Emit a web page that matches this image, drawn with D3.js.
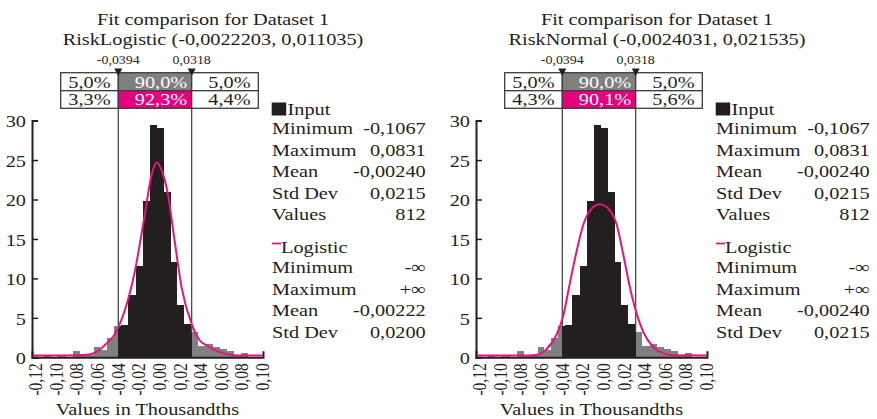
<!DOCTYPE html>
<html>
<head>
<meta charset="utf-8">
<script src="https://cdn.jsdelivr.net/npm/d3@7"></script>
<style>
    body { margin: 0; background: #fff; }
    svg text { font-family: "Liberation Serif", "Times New Roman", serif; fill: #231f20; }
</style>
</head>
<body>
<svg id="chart" width="877" height="419"></svg>
<script>
///// DATOS //////
// histograma (mismo dataset en los dos paneles)
let binEdges = [-0.1110, -0.1042, -0.0974, -0.0906, -0.0838, -0.0770, -0.0702, -0.0634, -0.0567, -0.0499,
    -0.0431, -0.0363, -0.0295, -0.0227, -0.0159, -0.0091, -0.0023, 0.0045, 0.0113, 0.0180,
    0.0248, 0.0316, 0.0384, 0.0452, 0.0520, 0.0588, 0.0656, 0.0724, 0.0792, 0.0860];
let binDensity = [0.18, 0, 0.18, 0, 0.75, 0.35, 0.35, 1.25, 0.9, 2.4,
    4.0, 4.1, 7.9, 11.6, 19.8, 29.5, 29.0, 21.0, 12.1, 6.6,
    4.2, 3.25, 1.45, 1.65, 1.35, 1.05, 0.75, 0.2, 0.6];

let xTicks = [-0.12, -0.10, -0.08, -0.06, -0.04, -0.02, 0, 0.02, 0.04, 0.06, 0.08, 0.10];
let yTicks = [0, 5, 10, 15, 20, 25, 30];

let delimiters = [-0.0394, 0.0318];
let delimiterLabels = ['-0,0394', '0,0318'];

let targetRow = ['5,0%', '90,0%', '5,0%'];
let logisticRow = ['3,3%', '92,3%', '4,4%'];
let normalRow = ['4,3%', '90,1%', '5,6%'];

// curvas ajustadas [valor, densidad]
let logisticCurve = [[-0.122, 0.22], [-0.090, 0.22], [-0.0733, 0.28], [-0.0625, 0.55], [-0.0528, 1.5],
    [-0.0425, 3.0], [-0.0332, 5.9], [-0.0235, 10.8], [-0.0138, 18.0], [-0.0070, 23.2], [-0.0022, 24.7],
    [0.0030, 23.6], [0.0090, 20.5], [0.0150, 15.0], [0.0221, 8.8], [0.0318, 4.2], [0.0399, 2.1],
    [0.0480, 1.4], [0.0528, 1.0], [0.0658, 0.4], [0.0787, 0.22], [0.1007, 0.22]];
let normalCurve = [[-0.122, 0.22], [-0.080, 0.22], [-0.0675, 0.25], [-0.0600, 0.5], [-0.0545, 1.05],
    [-0.0448, 2.9], [-0.0384, 5.3], [-0.0319, 9.5], [-0.0254, 13.5], [-0.0190, 16.8], [-0.0125, 18.6],
    [-0.0028, 19.4], [0.0069, 18.6], [0.0134, 16.8], [0.0198, 13.0], [0.0263, 8.8], [0.0328, 5.5],
    [0.0392, 3.2], [0.0489, 1.3], [0.0586, 0.5], [0.0683, 0.25], [0.1007, 0.22]];

let inputStatNames = ['Minimum', 'Maximum', 'Mean', 'Std Dev', 'Values'];
let inputStatValues = ['-0,1067', '0,0831', '-0,00240', '0,0215', '812'];
let fitStatNames = ['Minimum', 'Maximum', 'Mean', 'Std Dev'];
let logisticStatValues = ['-\u221E', '+\u221E', '-0,00222', '0,0200'];
let normalStatValues = ['-\u221E', '+\u221E', '-0,00240', '0,0215'];

let panels = [
    {offset: 0, subtitle: 'RiskLogistic (-0,0022203, 0,011035)', curve: logisticCurve, row: logisticRow, fitValues: logisticStatValues},
    {offset: 444, subtitle: 'RiskNormal (-0,0024031, 0,021535)', curve: normalCurve, row: normalRow, fitValues: normalStatValues}
];

///// ESTILO //////
const SX = 1.16; // el texto original sale algo ensanchado
const FS = 17.5;
const INK = '#231f20', GREY = '#808080', PINK = '#e8137f';

let locale = d3.formatLocale({decimal: ',', thousands: '.', grouping: [3], currency: ['', ''], minus: '-'});
let fmtX = locale.format('.2f');

let svg = d3.select('#chart');

function label(g, x, y, s, size, anchor, color) {
    return g.append('text')
        .attr('transform', 'translate(' + x + ',' + y + ') scale(' + SX + ',1)')
        .attr('text-anchor', anchor || 'start')
        .style('font-size', size + 'px')
        .style('fill', color || INK)
        .text(s);
}

panels.forEach(drawPanel);

function drawPanel(p) {
    let g = svg.append('g').attr('transform', 'translate(' + p.offset + ',0)');

    let x = d3.scaleLinear().domain([-0.12, 0.10]).range([35.2, 262]);
    let y = d3.scaleLinear().domain([0, 30]).range([357.3, 120.6]);
    let axisX = 32, axisEnd = 263;
    let xl = x(delimiters[0]), xh = x(delimiters[1]);

    //Títulos
    label(g, 213, 25, 'Fit comparison for Dataset 1', FS, 'middle');
    label(g, 213, 45, p.subtitle, FS, 'middle');

    //Líneas delimitadoras
    delimiters.forEach(function(d) {
        g.append('line')
            .attr('x1', x(d)).attr('x2', x(d))
            .attr('y1', 108).attr('y2', y(0))
            .attr('stroke', '#3a3a3a').attr('stroke-width', 1.2);
    });

    //Tabla de percentiles
    let cols = [60.7, xl, xh, 258.3];
    let rows = [72.7, 90.7, 108.3];
    let fills = [['#fff', GREY, '#fff'], ['#fff', '#e6007e', '#fff']];
    let nudge = [0, 6, 4.5];
    [targetRow, p.row].forEach(function(r, ri) {
        r.forEach(function(s, ci) {
            g.append('rect')
                .attr('x', cols[ci]).attr('y', rows[ri])
                .attr('width', cols[ci + 1] - cols[ci]).attr('height', rows[ri + 1] - rows[ri])
                .attr('fill', fills[ri][ci])
                .attr('stroke', '#3c3c3c').attr('stroke-width', 1.3);
            label(g, (cols[ci] + cols[ci + 1]) / 2 + nudge[ci], (rows[ri] + rows[ri + 1]) / 2 + 5.8, s, FS, 'middle', ci == 1 ? '#fff' : INK);
        });
    });

    //Marcadores
    delimiters.forEach(function(d, i) {
        label(g, x(d), 64, delimiterLabels[i], 12, 'middle');
        g.append('path')
            .attr('d', 'M' + (x(d) - 4) + ',68.5L' + (x(d) + 4) + ',68.5L' + x(d) + ',76Z')
            .attr('fill', INK);
    });

    //Barras, partidas en los delimitadores
    let segments = [];
    binDensity.forEach(function(v, i) {
        let a = binEdges[i], b = binEdges[i + 1];
        if (v <= 0) return;
        if (a < delimiters[0]) segments.push({a: a, b: Math.min(b, delimiters[0]), v: v, inside: false});
        if (b > delimiters[0] && a < delimiters[1]) segments.push({a: Math.max(a, delimiters[0]), b: Math.min(b, delimiters[1]), v: v, inside: true});
        if (b > delimiters[1]) segments.push({a: Math.max(a, delimiters[1]), b: b, v: v, inside: false});
    });

    g.append('g')
        .attr('shape-rendering', 'crispEdges')
        .selectAll('rect')
        .data(segments)
        .enter()
        .append('rect')
        .attr('x', d => x(d.a))
        .attr('width', d => x(d.b) - x(d.a))
        .attr('y', d => y(d.v))
        .attr('height', d => y(0) - y(d.v))
        .attr('fill', d => d.inside ? INK : GREY);

    //Eje Y
    let yAxis = d3.axisLeft(y).tickValues(yTicks).tickSizeInner(-6).tickSizeOuter(-6).tickPadding(0).tickFormat(d3.format('d'));
    let ya = g.append('g')
        .attr('transform', 'translate(' + axisX + ',0)')
        .call(yAxis)
        .attr('font-family', null).attr('font-size', null);
    ya.select('.domain').attr('stroke', INK).attr('stroke-width', 2);
    ya.selectAll('.tick line').attr('stroke', INK).attr('stroke-width', 1.5);
    ya.selectAll('.tick text')
        .attr('x', null)
        .attr('dy', '0.36em')
        .attr('transform', 'translate(-6,0) scale(' + SX + ',1)')
        .style('font-size', FS + 'px');

    //Eje X
    let xa = x.copy().domain([x.invert(axisX), x.invert(axisEnd)]).range([axisX, axisEnd]);
    let xAxis = d3.axisBottom(xa).tickValues(xTicks).tickSizeInner(0).tickSizeOuter(-6).tickFormat(fmtX);
    let xg = g.append('g')
        .attr('transform', 'translate(0,' + y(0) + ')')
        .call(xAxis)
        .attr('font-family', null).attr('font-size', null);
    xg.select('.domain').attr('stroke', INK).attr('stroke-width', 2);
    xg.selectAll('.tick text')
        .attr('y', null)
        .attr('dy', '0.36em')
        .attr('text-anchor', 'end')
        .attr('transform', 'translate(0,6) scale(' + SX + ',1) rotate(-90)')
        .style('font-size', '15.5px');

    label(g, 147.5, 415, 'Values in Thousandths', FS, 'middle');

    //Curva ajustada
    let line = d3.line()
        .x(d => x(d[0]))
        .y(d => y(d[1]))
        .curve(d3.curveMonotoneX);

    g.append('path')
        .datum(p.curve)
        .attr('fill', 'none')
        .attr('stroke', PINK)
        .attr('stroke-width', 2)
        .attr('d', line);

    //Estadísticos
    g.append('rect')
        .attr('x', 271.7).attr('y', 102.5)
        .attr('width', 14.5).attr('height', 13)
        .attr('fill', INK);
    label(g, 287.5, 115, 'Input', FS);
    inputStatNames.forEach(function(n, i) {
        label(g, 272, 134 + 21.5 * i, n, FS);
        label(g, 425.7, 134 + 21.5 * i, inputStatValues[i], FS, 'end');
    });

    g.append('line')
        .attr('x1', 272).attr('x2', 281)
        .attr('y1', 243.5).attr('y2', 243.5)
        .attr('stroke', PINK).attr('stroke-width', 1.8);
    label(g, 281, 252.5, 'Logistic', FS);
    fitStatNames.forEach(function(n, i) {
        label(g, 272, 273 + 21.5 * i, n, FS);
        label(g, 425.7, 273 + 21.5 * i, p.fitValues[i], FS, 'end');
    });
}
</script>
</body>
</html>
